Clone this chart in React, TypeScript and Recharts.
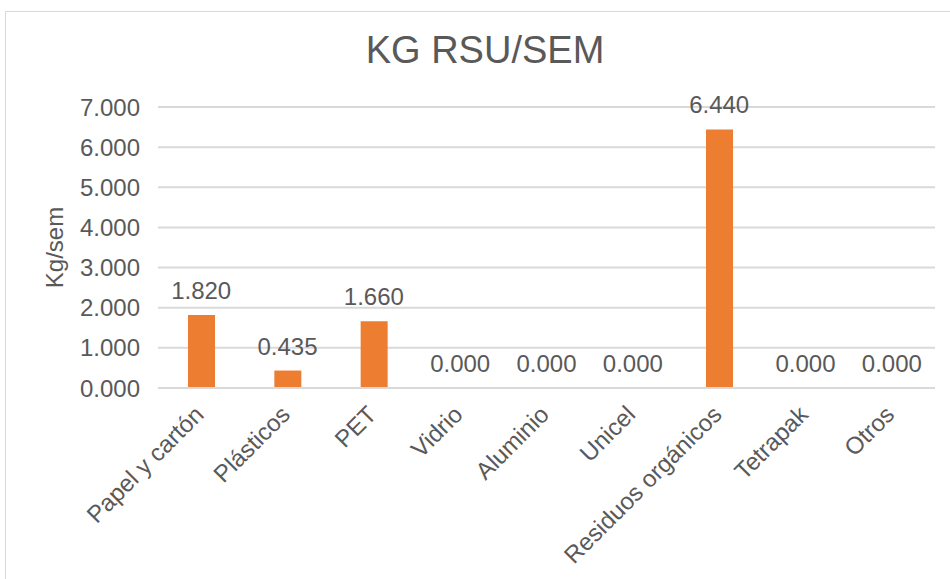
import React from 'react'
import { ComposedChart, Bar, Line, XAxis, YAxis, CartesianGrid } from 'recharts'

const categories = [
  'Papel y cartón',
  'Plásticos',
  'PET',
  'Vidrio',
  'Aluminio',
  'Unicel',
  'Residuos orgánicos',
  'Tetrapak',
  'Otros',
]
const kgPerWeek = [1.82, 0.435, 1.66, 0, 0, 0, 6.44, 0, 0]
const yTicks = [0, 1, 2, 3, 4, 5, 6, 7]

const data = categories.map((name, i) => ({ name, value: kgPerWeek[i] }))

const TEXT = '#595959'
const FONT = '"Liberation Sans", Arial, sans-serif'

const fmt = (v: any) => Number(v).toFixed(3)

function AngledTick(props: any) {
  const { x, y, payload } = props
  return (
    <text
      x={x + 4}
      y={y + 20}
      transform={`rotate(-45 ${x + 4} ${y + 20})`}
      textAnchor="end"
      fill={TEXT}
      fontSize={24}
      fontFamily={FONT}
    >
      {payload.value}
    </text>
  )
}

// labels hang off an invisible line so the zero bars get one as well
function ValueLabel(props: any) {
  const { x, y, value } = props
  return (
    <text
      x={x}
      y={y - 16}
      textAnchor="middle"
      fill={TEXT}
      fontSize={24}
      fontFamily={FONT}
    >
      {fmt(value)}
    </text>
  )
}

export default function App() {
  return (
    <div
      style={{
        position: 'fixed',
        left: 0,
        top: 0,
        width: 950,
        height: 579,
        background: '#fff',
        overflow: 'hidden',
      }}
    >
      <div
        style={{
          position: 'absolute',
          left: 5,
          top: 11,
          width: 960,
          height: 600,
          border: '1px solid #D9D9D9',
          boxSizing: 'border-box',
        }}
      />
      <div
        style={{
          position: 'absolute',
          left: 0,
          top: 29,
          width: 970,
          textAlign: 'center',
          fontFamily: FONT,
          fontSize: 38,
          color: TEXT,
        }}
      >
        KG RSU/SEM
      </div>
      <div style={{ position: 'absolute', left: 0, top: 0 }}>
        <ComposedChart
          width={950}
          height={579}
          data={data}
          margin={{ top: 107, right: 15, bottom: 0, left: 40 }}
        >
          <CartesianGrid vertical={false} stroke="#D9D9D9" strokeWidth={2} />
          <XAxis
            dataKey="name"
            interval={0}
            height={191}
            tick={<AngledTick />}
            tickLine={false}
            axisLine={{ stroke: '#D9D9D9', strokeWidth: 2 }}
          />
          <YAxis
            width={118}
            domain={[0, 7]}
            ticks={yTicks}
            tickFormatter={fmt}
            tick={{ fill: TEXT, fontSize: 24, fontFamily: FONT }}
            tickLine={false}
            axisLine={false}
            tickMargin={12}
            label={{
              value: 'Kg/sem',
              angle: -90,
              position: 'insideLeft',
              offset: 0,
              dx: 14,
              style: { fill: TEXT, fontSize: 24, fontFamily: FONT, textAnchor: 'middle' },
            }}
          />
          <Bar dataKey="value" fill="#ED7D31" barSize={27} isAnimationActive={false} />
          <Line
            dataKey="value"
            stroke="none"
            dot={false}
            activeDot={false}
            legendType="none"
            isAnimationActive={false}
            label={<ValueLabel />}
          />
        </ComposedChart>
      </div>
    </div>
  )
}
